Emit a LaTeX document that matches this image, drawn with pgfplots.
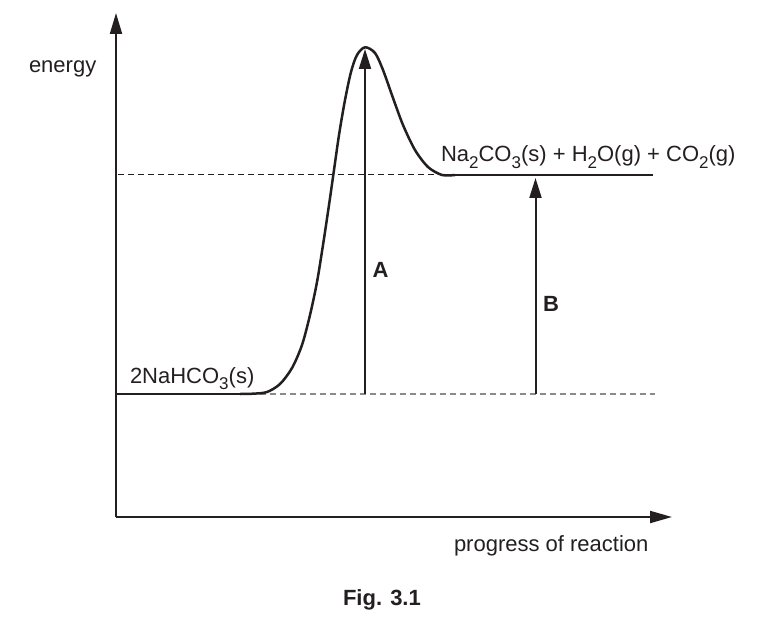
\documentclass[border=0pt]{standalone}
\usepackage{pgfplots}
\pgfplotsset{compat=1.18}
\usepackage{fontspec}
\setmainfont{Liberation Sans}
\usetikzlibrary{arrows.meta}
\definecolor{ink}{HTML}{231F20}
\definecolor{dgray}{HTML}{8A8A8A}
\newcommand{\sub}[1]{\raisebox{-3.3pt}{\fontsize{8.5}{8.5}\selectfont #1}}
\begin{document}
\fontsize{11}{13}\selectfont
\begin{tikzpicture}[every node/.style={inner sep=0pt, outer sep=0pt, text=ink}]
\begin{axis}[
  width=381.5pt, height=312pt, scale only axis,
  xmin=0, xmax=763, ymin=0, ymax=624, y dir=reverse,
  hide axis, clip=false,
]
% invisible frame
\addplot[draw=none] coordinates {(0,0) (763,624)};
% dashed levels
\addplot[ink, line width=0.5pt, dash pattern=on 3pt off 2pt] coordinates {(118,175) (440,175)};
\addplot[dgray, line width=0.7pt, dash pattern=on 3pt off 2pt] coordinates {(250,394) (655,394)};
% axes
\addplot[ink, line width=1pt, -{Triangle[length=10.5pt,width=6pt]}] coordinates {(116,517) (116,13)};
\addplot[ink, line width=1pt, -{Triangle[length=11pt,width=6pt]}] coordinates {(115.5,517) (672,517)};
% energy profile
\addplot[ink, line width=1.25pt] coordinates {(116,394) (240,394)};
\addplot[ink, line width=1.25pt, smooth, tension=0.5] coordinates {
 (240,394) (253,393.7) (267,392) (280,384) (292,368) (302,345) (310,315)
 (317,282) (323,245) (329,205) (334,170) (339,135) (345,100) (351,72)
 (357,55) (365,47.3) (375,53) (383,70) (393,98) (403,125) (415,150)
 (428,167) (442,175) (455,175)};
\addplot[ink, line width=1.25pt] coordinates {(455,175) (653,175)};
% arrows A and B
\addplot[ink, line width=1pt, -{Triangle[length=10pt,width=6pt]}] coordinates {(365,394) (365,49)};
\addplot[ink, line width=1pt, -{Triangle[length=10pt,width=6pt]}] coordinates {(535.5,394) (535.5,178)};
% labels
\node[anchor=base west] at (axis cs:29,73) {energy};
\node[anchor=base west] at (axis cs:441,162) {Na\sub{2}CO\sub{3}(s) + H\sub{2}O(g) + CO\sub{2}(g)};
\node[anchor=base west] at (axis cs:130,383) {2NaHCO\sub{3}(s)};
\node[anchor=base west] at (axis cs:372.5,278) {\bfseries A};
\node[anchor=base west] at (axis cs:543,312) {\bfseries B};
\node[anchor=base west] at (axis cs:454,551) {progress of reaction};
\node[anchor=base west] at (axis cs:343,605) {\bfseries Fig. 3.1};
\end{axis}
\end{tikzpicture}
\end{document}
